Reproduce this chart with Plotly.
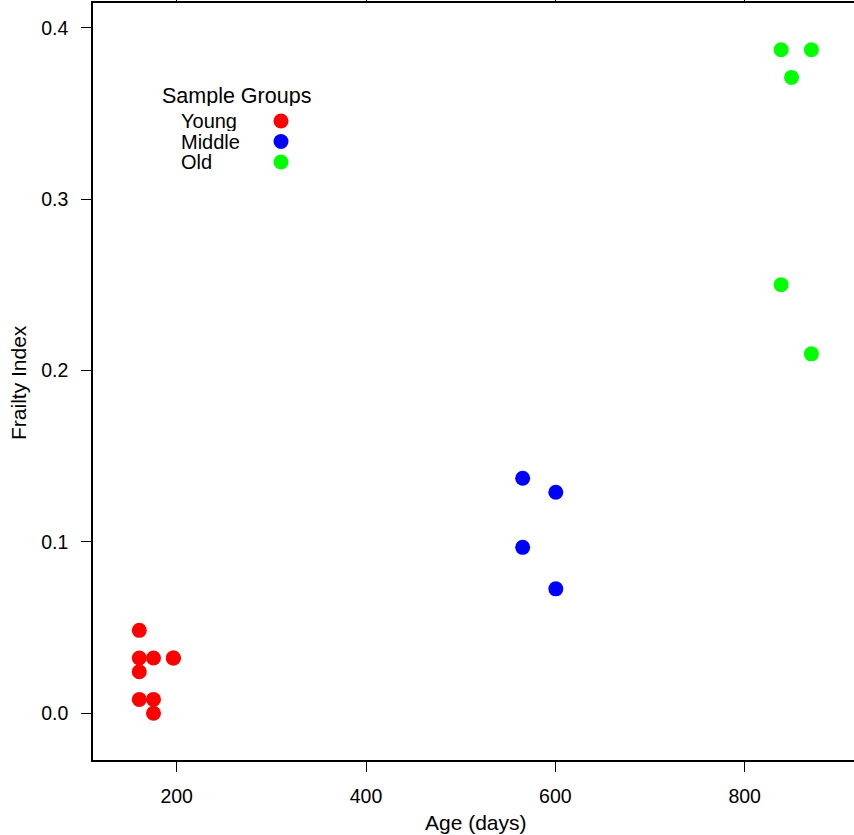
import plotly.graph_objects as go

# ---- data ----
young_age = [160.5, 160.5, 175.5, 196.5, 196.5, 160.5, 160.5, 175.5, 175.5]
young_fi = [0.0484, 0.0323, 0.0323, 0.0323, 0.0323, 0.0242, 0.0081, 0.0081, 0.0]
middle_age = [565.5, 600.5, 565.5, 600.5]
middle_fi = [0.1371, 0.1290, 0.0968, 0.0726]
old_age = [838.5, 870.5, 849.5, 838.5, 870.5]
old_fi = [0.3871, 0.3871, 0.3710, 0.2500, 0.2097]

group_names = ["Young", "Middle", "Old"]
group_colors = ["#FF0000", "#0000FF", "#00FF00"]
x_ticks = [200, 400, 600, 800]
y_ticks = [0.0, 0.1, 0.2, 0.3, 0.4]
y_tick_text = ["0.0", "0.1", "0.2", "0.3", "0.4"]

FONT = "Liberation Sans, Arial, Helvetica, sans-serif"
W, H = 854, 835
ML, MR, MT, MB = 93, 0, 3, 75
PW, PH = W - ML - MR, H - MT - MB

fig = go.Figure()
for name, color, xs, ys in zip(group_names, group_colors,
                               [young_age, middle_age, old_age],
                               [young_fi, middle_fi, old_fi]):
    fig.add_trace(go.Scatter(x=xs, y=ys, mode="markers", name=name,
                             marker=dict(color=color, size=15, line=dict(width=0)),
                             showlegend=False))

def px_x(p):
    return (p - ML) / PW

def px_y(p):
    return (H - MB - p) / PH

annotations = [
    dict(text="Age (days)", x=px_x(476), y=px_y(823), xref="paper", yref="paper",
         showarrow=False, xanchor="center", yanchor="middle",
         font=dict(size=21, color="black", family=FONT)),
    dict(text="Frailty Index", x=px_x(18), y=px_y(383), xref="paper", yref="paper",
         showarrow=False, xanchor="center", yanchor="middle", textangle=-90,
         font=dict(size=21, color="black", family=FONT)),
    dict(text="Sample Groups", x=px_x(160), y=px_y(96), xref="paper", yref="paper",
         showarrow=False, xanchor="left", yanchor="middle", height=21,
         font=dict(size=21.5, color="black", family=FONT)),
]
shapes = []
leg_y = [121, 141.5, 162]
for name, color, yy in zip(group_names, group_colors, leg_y):
    annotations.append(dict(text=name, x=px_x(179), y=px_y(yy), xref="paper", yref="paper",
                            showarrow=False, xanchor="left", yanchor="middle", height=20,
                            font=dict(size=20, color="black", family=FONT)))
    r = 7.5
    shapes.append(dict(type="circle", xref="paper", yref="paper",
                       x0=px_x(281 - r), x1=px_x(281 + r),
                       y0=px_y(yy + r), y1=px_y(yy - r),
                       fillcolor=color, line=dict(width=0)))

fig.update_layout(
    width=W, height=H,
    margin=dict(l=ML, r=MR, t=MT, b=MB, autoexpand=False),
    plot_bgcolor="white", paper_bgcolor="white",
    font=dict(family=FONT, size=18, color="black"),
    annotations=annotations, shapes=shapes,
    xaxis=dict(range=[111.6, 915.5], tickvals=x_ticks, ticktext=[str(v) for v in x_ticks],
               showline=True, linecolor="black", linewidth=1.5, mirror="ticks",
               ticks="outside", ticklen=10, tickwidth=1.2, tickcolor="black",
               showgrid=False, zeroline=False, ticklabelstandoff=8, automargin=False,
               tickfont=dict(size=19.5, family=FONT)),
    yaxis=dict(range=[-0.02725, 0.4144], tickvals=y_ticks, ticktext=y_tick_text,
               showline=True, linecolor="black", linewidth=1.5, mirror=False,
               ticks="outside", ticklen=10, tickwidth=1.2, tickcolor="black",
               showgrid=False, zeroline=False, ticklabelstandoff=9, automargin=False,
               tickfont=dict(size=19.5, family=FONT)),
)

fig.write_html("out.html", config={"displayModeBar": False},
               post_script="document.body.style.margin='0';document.body.style.overflow='hidden';")
